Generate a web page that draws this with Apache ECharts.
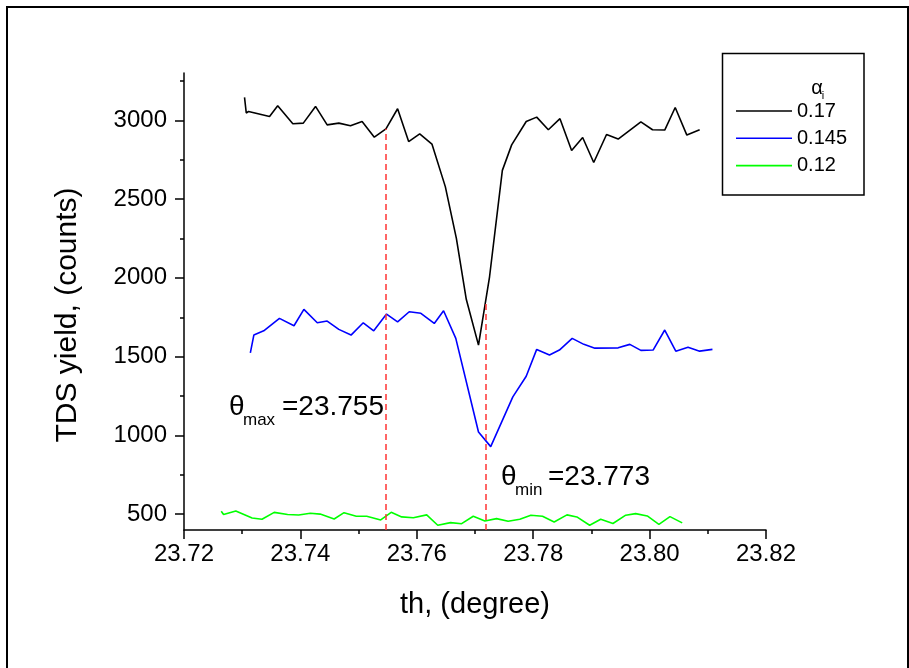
<!DOCTYPE html>
<html>
<head>
<meta charset="utf-8">
<script src="https://cdn.jsdelivr.net/npm/echarts@6/dist/echarts.min.js"></script>
<style>
html,body{margin:0;padding:0;background:#fff;}
#c{width:909px;height:668px;}
</style>
</head>
<body>
<div id="c"></div>
<script>
// ---- data ----
const seriesNames = ['0.17', '0.145', '0.12'];

const blackX = [23.7304, 23.7307, 23.7311, 23.7347, 23.7361, 23.7387, 23.7405, 23.7426, 23.7446, 23.7466,
  23.7486, 23.7506, 23.7527, 23.7547, 23.7567, 23.7586, 23.7605, 23.7626, 23.7649, 23.7668,
  23.7685, 23.7706, 23.7725, 23.7747, 23.7763, 23.7788, 23.7806, 23.7826, 23.7846, 23.7866,
  23.7885, 23.7904, 23.7926, 23.7946, 23.7985, 23.8005, 23.8026, 23.8044, 23.8064, 23.8086];
const blackY = [3145, 3046, 3056, 3024, 3092, 2978, 2982, 3088, 2971, 2982,
  2965, 2992, 2893, 2946, 3073, 2865, 2914, 2849, 2579, 2251,
  1864, 1573, 2007, 2682, 2844, 2992, 3020, 2940, 3010, 2808,
  2891, 2732, 2910, 2881, 2990, 2940, 2938, 3081, 2906, 2940];

const blueX = [23.7314, 23.7320, 23.7337, 23.7364, 23.7389, 23.7406, 23.7429, 23.7446, 23.7466, 23.7487,
  23.7508, 23.7526, 23.7548, 23.7567, 23.7587, 23.7607, 23.7630, 23.7646, 23.7667, 23.7706,
  23.7727, 23.7765, 23.7788, 23.7806, 23.7828, 23.7845, 23.7867, 23.7887, 23.7906, 23.7946,
  23.7966, 23.7985, 23.8006, 23.8026, 23.8045, 23.8066, 23.8086, 23.8108];
const blueY = [1524, 1637, 1664, 1743, 1696, 1800, 1715, 1726, 1673, 1637,
  1715, 1664, 1770, 1721, 1785, 1775, 1711, 1791, 1616, 1022,
  929, 1245, 1376, 1546, 1510, 1542, 1616, 1578, 1554, 1556,
  1578, 1540, 1542, 1669, 1535, 1559, 1535, 1546];

const greenX = [23.7264, 23.7268, 23.7289, 23.7317, 23.7334, 23.7355, 23.7378, 23.7397, 23.7417, 23.7434,
  23.7458, 23.7475, 23.7496, 23.7514, 23.7538, 23.7556, 23.7574, 23.7594, 23.7617, 23.7636,
  23.7658, 23.7677, 23.7697, 23.7717, 23.7737, 23.7757, 23.7777, 23.7796, 23.7816, 23.7836,
  23.7858, 23.7875, 23.7897, 23.7916, 23.7937, 23.7959, 23.7976, 23.7996, 23.8016, 23.8035, 23.8056];
const greenY = [519, 498, 521, 476, 468, 512, 498, 495, 506, 501,
  470, 510, 487, 487, 464, 512, 483, 478, 496, 430,
  447, 440, 487, 457, 472, 455, 468, 494, 487, 451,
  496, 483, 430, 468, 441, 494, 504, 489, 436, 485, 445];

// vertical dashed markers (theta max / theta min)
const markerX = [23.7547, 23.7719];
const markerTop = [2946, 1859];

// axis ticks / labels
const yLabelValues = [500, 1000, 1500, 2000, 2500, 3000];
const yMinorTicks = [750, 1250, 1750, 2250, 2750, 3250];

const zip = (xs, ys) => xs.map((x, i) => [x, ys[i]]);
const FONT = "'Liberation Sans', Arial, sans-serif";

const chart = echarts.init(document.getElementById('c'), null, {renderer: 'canvas'});

const markLineData = markerX.map((x, i) => [{coord: [x, 400]}, {coord: [x, markerTop[i]]}]);
const lineIcon = 'path://M0,0H56V1.6H0Z';

const option = {
  animation: false,
  backgroundColor: '#ffffff',
  grid: {left: 184, right: 143, top: 73, bottom: 138, containLabel: false},
  xAxis: {
    type: 'value', min: 23.72, max: 23.82, interval: 0.02,
    name: 'th, (degree)', nameLocation: 'middle', nameGap: 60,
    nameTextStyle: {fontSize: 29, fontFamily: FONT, color: '#000'},
    axisLine: {show: true, onZero: false, lineStyle: {color: '#000', width: 1.5}},
    axisTick: {show: true, inside: false, length: 9, lineStyle: {color: '#000', width: 1.5}},
    minorTick: {show: true, splitNumber: 2, length: 4, lineStyle: {color: '#000', width: 1.5}},
    axisLabel: {fontSize: 24, fontFamily: FONT, color: '#000', margin: 12,
      formatter: v => v.toFixed(2)},
    splitLine: {show: false}
  },
  yAxis: [{
    type: 'value', min: 400, max: 3300, position: 'left',
    axisLine: {show: true, onZero: false, lineStyle: {color: '#000', width: 1.5}},
    axisTick: {show: true, inside: false, length: 9, customValues: yLabelValues, lineStyle: {color: '#000', width: 1.5}},
    axisLabel: {fontSize: 24, fontFamily: FONT, color: '#000', margin: 17, customValues: yLabelValues,
      formatter: v => String(Math.round(v))},
    splitLine: {show: false}
  }, {
    type: 'value', min: 400, max: 3300, position: 'left', offset: 0,
    axisLine: {show: false},
    axisTick: {show: true, inside: false, length: 4, customValues: yMinorTicks, lineStyle: {color: '#000', width: 1.5}},
    axisLabel: {show: false},
    splitLine: {show: false}
  }],
  legend: {
    orient: 'vertical', left: 736, top: 101, padding: 0,
    itemWidth: 56, itemHeight: 20, itemGap: 7.3,
    textStyle: {fontSize: 20, fontFamily: FONT, color: '#000', lineHeight: 20},
    data: seriesNames.map(n => ({name: n, icon: lineIcon}))
  },
  series: [{
    name: seriesNames[0], type: 'line', symbol: 'none', data: zip(blackX, blackY),
    lineStyle: {color: '#000000', width: 1.6}, itemStyle: {color: '#000000'},
    markLine: {
      silent: true, symbol: ['none', 'none'], label: {show: false},
      lineStyle: {color: '#ff3333', type: [6, 4], width: 1.5},
      data: markLineData
    }
  }, {
    name: seriesNames[1], type: 'line', symbol: 'none', data: zip(blueX, blueY),
    lineStyle: {color: '#0000ff', width: 1.6}, itemStyle: {color: '#0000ff'}
  }, {
    name: seriesNames[2], type: 'line', symbol: 'none', data: zip(greenX, greenY),
    lineStyle: {color: '#00ff00', width: 1.6}, itemStyle: {color: '#00ff00'}
  }],
  graphic: [
    // outer frame
    {type: 'rect', shape: {x: 7, y: 7, width: 901, height: 700}, style: {fill: 'none', stroke: '#000', lineWidth: 2}, silent: true},
    // legend box
    {type: 'rect', shape: {x: 722.5, y: 53.5, width: 141.5, height: 141.5}, style: {fill: 'none', stroke: '#000', lineWidth: 1.5}, silent: true},
    {type: 'text', x: 817, y: 88, style: {text: 'α', fontSize: 20, fontFamily: FONT, fill: '#000', align: 'center', verticalAlign: 'middle'}},
    {type: 'text', x: 823, y: 96, style: {text: 'i', fontSize: 11, fontFamily: FONT, fill: '#000', align: 'center', verticalAlign: 'middle'}},
    // y axis title
    {type: 'text', x: 68, y: 315, rotation: Math.PI / 2,
      style: {text: 'TDS yield, (counts)', fontSize: 30, fontFamily: FONT, fill: '#000', align: 'center', verticalAlign: 'middle'}},
    // theta max annotation
    {type: 'text', x: 229, y: 407, style: {text: 'θ', fontSize: 28, fontFamily: FONT, fill: '#000', align: 'left', verticalAlign: 'middle'}},
    {type: 'text', x: 243, y: 420, style: {text: 'max', fontSize: 17, fontFamily: FONT, fill: '#000', align: 'left', verticalAlign: 'middle'}},
    {type: 'text', x: 282, y: 407, style: {text: '=23.755', fontSize: 28, fontFamily: FONT, fill: '#000', align: 'left', verticalAlign: 'middle'}},
    // theta min annotation
    {type: 'text', x: 501, y: 477, style: {text: 'θ', fontSize: 28, fontFamily: FONT, fill: '#000', align: 'left', verticalAlign: 'middle'}},
    {type: 'text', x: 515, y: 490, style: {text: 'min', fontSize: 17, fontFamily: FONT, fill: '#000', align: 'left', verticalAlign: 'middle'}},
    {type: 'text', x: 548, y: 477, style: {text: '=23.773', fontSize: 28, fontFamily: FONT, fill: '#000', align: 'left', verticalAlign: 'middle'}}
  ]
};
chart.setOption(option);
</script>
</body>
</html>
